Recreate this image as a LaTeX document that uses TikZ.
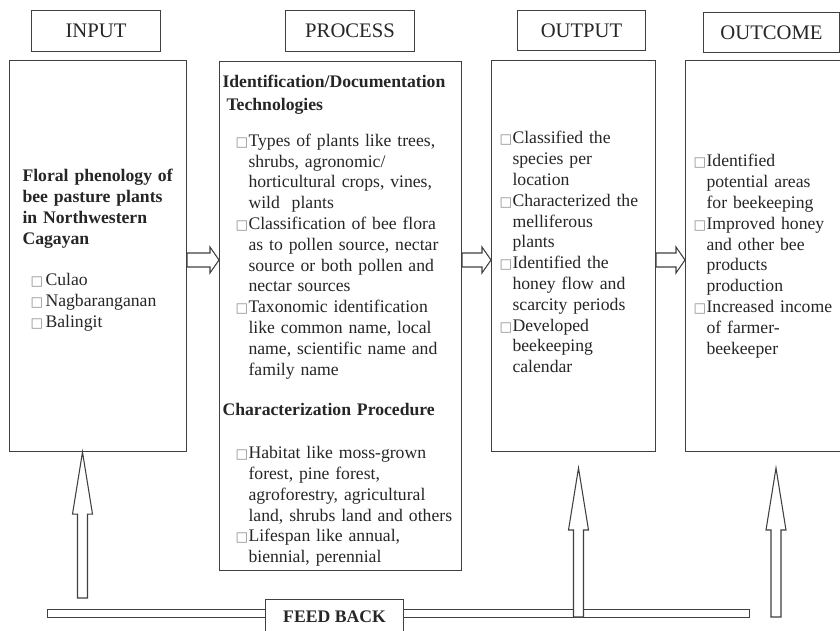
\documentclass[tikz,border=0pt]{standalone}
\usepackage{fontspec}
\setmainfont{Liberation Serif}
\newfontfamily\boxfont{DejaVu Sans}
\usetikzlibrary{calc}

% little grey square in front of each entry
\newcommand{\sq}{{\boxfont\fontsize{10}{10}\selectfont\color{black!45}□}}
\newcommand{\itm}[2][9.75pt]{\par\hangindent=#1\hangafter=1\noindent\makebox[#1][l]{\sq}#2}

% hollow block arrow to the right, between two boxes at height #3
\newcommand{\rarr}[3]{%
  \draw[blockarrow] ($(#1.east |- 0,#3)+(0,-7)$) -- ($(#2.west |- 0,#3)+(-9,-7)$) -- ++(0,-6)
    -- (#2.west |- 0,#3) -- ($(#2.west |- 0,#3)+(-9,13)$) -- ++(0,-6)
    -- ($(#1.east |- 0,#3)+(0,7)$) -- cycle;}
% hollow block arrow pointing up, tip #1, foot #2
\newcommand{\uarr}[2]{%
  \draw[blockarrow] ($(#2)+(-5,0)$) -- ($(#1)+(-5,62)$) -- ($(#1)+(-10,62)$) -- (#1)
    -- ($(#1)+(10,62)$) -- ($(#1)+(5,62)$) -- ($(#2)+(5,0)$) -- cycle;}

\begin{document}
\begin{tikzpicture}[x=0.75pt,y=-0.75pt,
  frame/.style={draw=black!75,line width=0.8pt,fill=white,inner sep=0pt,text=black!85},
  headbox/.style={frame,anchor=north west,align=center,font=\fontsize{15.5}{18}\selectfont},
  bodybox/.style={frame,anchor=north west,align=left,font=\fontsize{13.25}{15.6}\selectfont},
  blockarrow/.style={draw=black!75,line width=0.8pt,fill=white}]
\useasboundingbox (0,0) rectangle (840,631);

% headings
\node[headbox,minimum width=96.75pt,minimum height=30.75pt] (inhead) at (31,10) {INPUT};
\node[headbox,minimum width=96.75pt,minimum height=30.75pt] (prohead) at (285,10) {PROCESS};
\node[headbox,minimum width=96pt,minimum height=30pt] (outhead) at (517,10) {OUTPUT};
\node[headbox,minimum width=102pt,minimum height=30pt] (ochead) at (703,12) {OUTCOME};

% the four columns
\node[bodybox,minimum width=132.75pt,minimum height=293.25pt,text width=113.25pt,inner xsep=9.75pt] (inbox) at (9,60) {%
  {\bfseries Floral phenology of\newline bee pasture plants\newline in Northwestern\newline Cagayan}\par
  \vspace{15.5pt}
  {\leftskip=6pt
  \itm[11.25pt]{Culao}
  \itm[11.25pt]{Nagbaranganan}
  \itm[11.25pt]{Balingit}\par}
  \vspace{9pt}};

\node[bodybox,minimum width=181.5pt,minimum height=381.75pt,text width=177pt,inner xsep=2.25pt] (probox) at (219,61) {%
  {\bfseries Identification/Documentation\par\vspace{2pt}\hspace*{3pt}Technologies}\par
  \vspace{11pt}
  {\leftskip=9.75pt
  \itm{Types of plants like trees,\newline shrubs, agronomic/\newline horticultural crops, vines,\newline wild\ \ plants}
  \itm{Classification of bee flora\newline as to pollen source, nectar\newline source or both pollen and\newline nectar sources}
  \itm{Taxonomic identification\newline like common name, local\newline name, scientific name and\newline family name}\par}
  \vspace{15pt}
  {\bfseries Characterization Procedure}\par
  \vspace{16.5pt}
  {\leftskip=9.75pt
  \itm{Habitat like moss-grown\newline forest, pine forest,\newline agroforestry, agricultural\newline land, shrubs land and others}
  \itm{Lifespan like annual,\newline biennial, perennial}\par}
  \vspace{-7pt}};

\node[bodybox,minimum width=123pt,minimum height=293.25pt,text width=111pt,inner xsep=6pt] (outbox) at (491,60) {%
  \itm{Classified the\newline species per\newline location}
  \itm{Characterized the\newline melliferous\newline plants}
  \itm{Identified the\newline honey flow and\newline scarcity periods}
  \itm{Developed\newline beekeeping\newline calendar}\par
  \vspace{12pt}};

\node[bodybox,minimum width=123.75pt,minimum height=293.25pt,text width=111.75pt,inner xsep=6pt] (ocbox) at (685,60) {%
  \itm{Identified\newline potential areas\newline for beekeeping}
  \itm{Improved honey\newline and other bee\newline products\newline production}
  \itm{Increased income\newline of farmer-\newline beekeeper}\par
  \vspace{6pt}};

% arrows between the columns
\rarr{inbox}{probox}{260}
\rarr{probox}{outbox}{260}
\rarr{outbox}{ocbox}{260}

% feedback line
\node[frame,anchor=north west,minimum width=526.5pt,minimum height=6pt] (fbbar) at (47,609) {};

\coordinate (infoot) at (82.5,598);
\coordinate (intip) at (infoot |- inbox.south);
\coordinate (outfoot) at (578.5,617);
\coordinate (outtip) at (578.5,468);
\coordinate (ocfoot) at (776,617);
\coordinate (octip) at (776,468);
\uarr{intip}{infoot}
\uarr{outtip}{outfoot}
\uarr{octip}{ocfoot}

\node[frame,anchor=north west,minimum width=103.5pt,minimum height=25.5pt,font=\bfseries\fontsize{13.25}{15.6}\selectfont] (fback) at (265,599) {FEED BACK};

\end{tikzpicture}
\end{document}
